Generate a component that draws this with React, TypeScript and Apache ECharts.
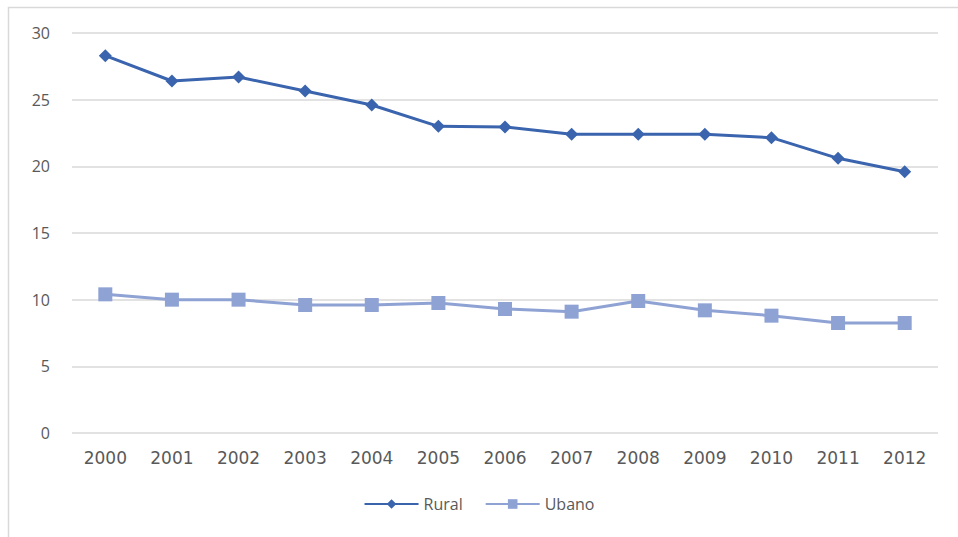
import React, { useEffect, useRef } from "react";
import * as echarts from "echarts";

const years = ["2000", "2001", "2002", "2003", "2004", "2005", "2006", "2007", "2008", "2009", "2010", "2011", "2012"];
const rural = [28.3, 26.4, 26.7, 25.65, 24.6, 23.0, 22.95, 22.4, 22.4, 22.4, 22.15, 20.6, 19.6];
const urbano = [10.4, 10.0, 10.0, 9.6, 9.6, 9.75, 9.3, 9.1, 9.9, 9.2, 8.8, 8.25, 8.25];
const yTicks = [0, 5, 10, 15, 20, 25, 30];

export default function App() {
  const ref = useRef<HTMLDivElement>(null);
  useEffect(() => {
    if (!ref.current) return;
    const chart = echarts.init(ref.current, null, { renderer: "svg" });
    chart.setOption({
      animation: false,
      backgroundColor: "#ffffff",
      textStyle: { fontFamily: "Open Sans, Liberation Sans, sans-serif" },
      graphic: [
        {
          type: "rect",
          shape: { x: 8.5, y: 7.5, width: 1000, height: 600 },
          style: { fill: "none", stroke: "#d9d9d9", lineWidth: 1.5 },
          silent: true,
        },
      ],
      grid: { left: 72, right: 20, top: 33, bottom: 104 },
      xAxis: {
        type: "category",
        data: years,
        boundaryGap: true,
        axisLine: { show: false },
        axisTick: { show: false },
        axisLabel: { color: "#595959", fontSize: 17, margin: 16, fontFamily: "DejaVu Sans, sans-serif" },
      },
      yAxis: {
        type: "value",
        min: yTicks[0],
        max: yTicks[yTicks.length - 1],
        interval: 5,
        axisLine: { show: false },
        axisTick: { show: false },
        axisLabel: { color: "#595959", fontSize: 16, margin: 22 },
        splitLine: { lineStyle: { color: "#d9d9d9", width: 1.5 } },
      },
      legend: {
        bottom: 20,
        left: "center",
        itemWidth: 54,
        itemHeight: 12,
        itemGap: 22,
        textStyle: { color: "#595959", fontSize: 16 },
        data: ["Rural", "Ubano"],
      },
      series: [
        {
          name: "Rural",
          type: "line",
          data: rural,
          symbol: "diamond",
          symbolSize: 13,
          lineStyle: { color: "#3a64ad", width: 3 },
          itemStyle: { color: "#3a64ad" },
        },
        {
          name: "Ubano",
          type: "line",
          data: urbano,
          symbol: "rect",
          symbolSize: 14,
          lineStyle: { color: "#8fa2d4", width: 3 },
          itemStyle: { color: "#8fa2d4" },
        },
      ],
    });
    return () => chart.dispose();
  }, []);
  return <div ref={ref} style={{ position: "fixed", left: 0, top: 0, width: 958, height: 537 }} />;
}
